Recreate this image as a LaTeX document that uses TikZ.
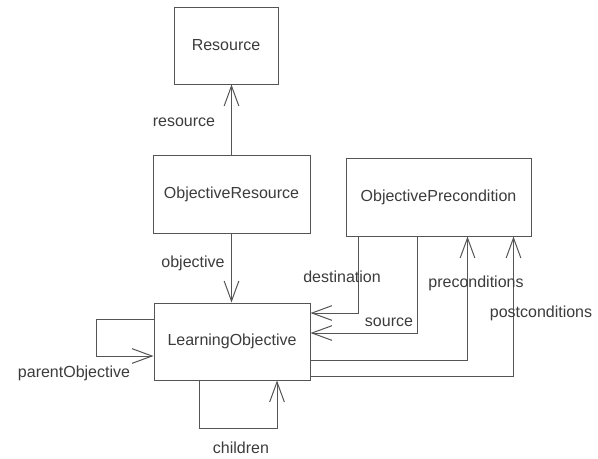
\documentclass[tikz,border=0pt]{standalone}
\usepackage{fontspec}
\setmainfont{Liberation Sans}
\usepackage{tikz}
\usetikzlibrary{arrows.meta,calc,positioning}
\definecolor{umlink}{HTML}{3C3C3C}
\definecolor{umlline}{HTML}{555555}

\begin{document}
\begin{tikzpicture}[x=0.75pt,y=-0.75pt,line cap=butt,line join=miter,
  font=\fontsize{12}{14}\selectfont,text=umlink,
  cls/.style={draw=umlline,line width=0.75pt,rectangle,inner sep=0pt},
  assoc/.style={draw=umlline,line width=0.75pt,-{Straight Barb[length=15pt,width=11pt,line width=0.75pt]}},
  role/.style={inner sep=1pt}]
\path[use as bounding box] (0,0) rectangle (598,458);
\fill[white] (0,0) rectangle (598,458);

% classes
\node[cls,minimum width=78pt,minimum height=57.75pt] (rsrc) at (226,45.5) {Resource};
\node[cls,minimum width=117.75pt,minimum height=58.5pt] (orsrc) at (231.5,194) {ObjectiveResource};
\node[cls,minimum width=117pt,minimum height=57.75pt] (lobj) at (232,341.5) {LearningObjective};
\node[cls,minimum width=138.75pt,minimum height=58.5pt] (prec) at (438.5,197) {ObjectivePrecondition};

% associations
\draw[assoc] (orsrc.north) -- (orsrc.north |- rsrc.south);
\draw[assoc] (orsrc.south) -- (orsrc.south |- lobj.north);
\draw[assoc] ($(prec.south west)+(13,0)$) |- ($(lobj.east)+(0,-28.5)$);
\draw[assoc] ($(prec.south west)+(72,0)$) |- ($(lobj.east)+(0,-8.5)$);
\draw[assoc] ($(lobj.east)+(0,18.5)$) -| ($(prec.south west)+(122,0)$);
\draw[assoc] ($(lobj.east)+(0,34.5)$) -| ($(prec.south west)+(168,0)$);
\draw[assoc] ($(lobj.west)+(0,-22.5)$) -- ++(-57,0) |- ($(lobj.west)+(0,14.5)$);
\draw[assoc] ($(lobj.south)+(-33,0)$) -- ++(0,48) -| ($(lobj.south)+(45,0)$);

% role names
\node[role] (lresource) at (184,122) {resource};
\node[role] (lobjective) at (193,263) {objective};
\node[role] (ldest) at (342,277) {destination};
\node[role] (lsource) at (389,322) {source};
\node[role] (lpre) at (476,283) {preconditions};
\node[role] (lpost) at (541,313) {postconditions};
\node[role] (lparent) at (74,373) {parentObjective};
\node[role] (lchildren) at (241,448) {children};
\end{tikzpicture}
\end{document}
